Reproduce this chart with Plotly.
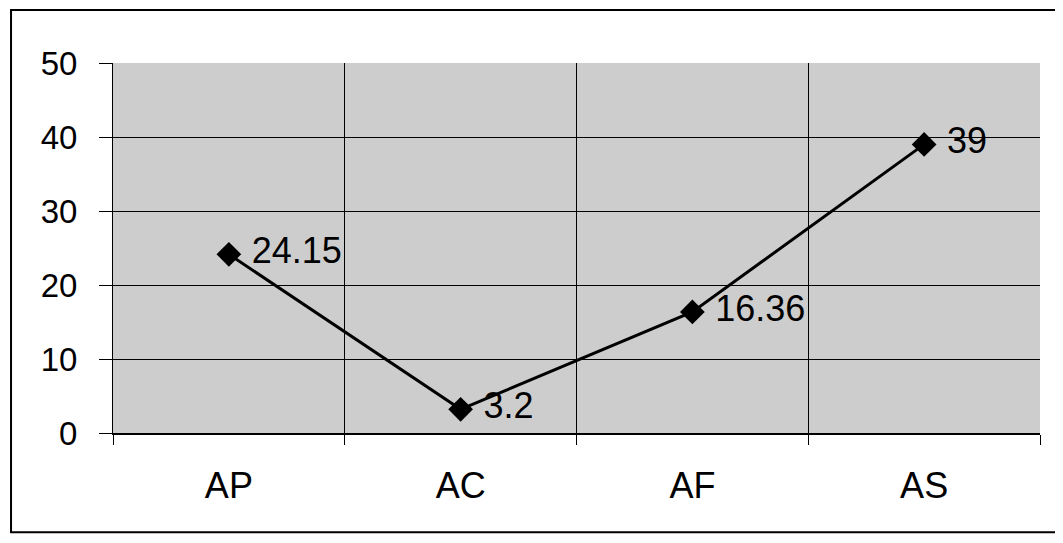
import plotly.graph_objects as go

# values
categories = ["AP", "AC", "AF", "AS"]
values = [24.15, 3.2, 16.36, 39]
labels = ["24.15", "3.2", "16.36", "39"]
y_ticks = [0, 10, 20, 30, 40, 50]

FONT = "Arial, Liberation Sans, sans-serif"

fig = go.Figure()

fig.add_trace(go.Scatter(
    x=categories, y=values, text=labels,
    mode="lines+markers+text",
    texttemplate="\u00a0%{text}",
    textposition="middle right",
    textfont=dict(family=FONT, size=36, color="black"),
    line=dict(color="black", width=3),
    marker=dict(symbol="diamond", size=19, color="black"),
    cliponaxis=False,
    showlegend=False,
    hoverinfo="skip",
))

# the page body adds an 8px margin, so the figure is a bit smaller than the window
fig.update_layout(
    width=1047, height=527,
    margin=dict(l=105, r=15, t=55, b=102),
    paper_bgcolor="white",
    plot_bgcolor="#cdcdcd",
    font=dict(family=FONT, color="black"),
    xaxis=dict(
        type="category", categoryorder="array", categoryarray=categories,
        range=[-0.5, 3.5], tickson="boundaries",
        showgrid=True, gridcolor="black", gridwidth=1,
        ticks="outside", ticklen=10, tickcolor="black",
        showline=True, linecolor="black", linewidth=2, mirror=False,
        tickfont=dict(family=FONT, size=36, color="black"),
        ticklabelstandoff=20,
    ),
    # second category axis only to draw the gridlines through the category centres
    xaxis2=dict(
        type="category", categoryorder="array", categoryarray=categories,
        range=[-0.5, 3.5], overlaying="x", anchor="y",
        showgrid=True, gridcolor="black", gridwidth=1,
        showticklabels=False, ticks="", showline=False,
    ),
    yaxis=dict(
        range=[0, 50], tickvals=y_ticks,
        showgrid=True, gridcolor="black", gridwidth=1,
        zeroline=True, zerolinecolor="black", zerolinewidth=2,
        ticks="outside", ticklen=13, tickcolor="black",
        showline=True, linecolor="black", linewidth=1,
        tickfont=dict(family=FONT, size=33, color="black"),
        ticklabelstandoff=15,
    ),
    shapes=[dict(
        type="rect", xref="paper", yref="paper",
        x0=-0.110, x1=1.019, y0=-0.268, y1=1.143,
        line=dict(color="black", width=2),
    )],
)

fig.write_html("out.html")
